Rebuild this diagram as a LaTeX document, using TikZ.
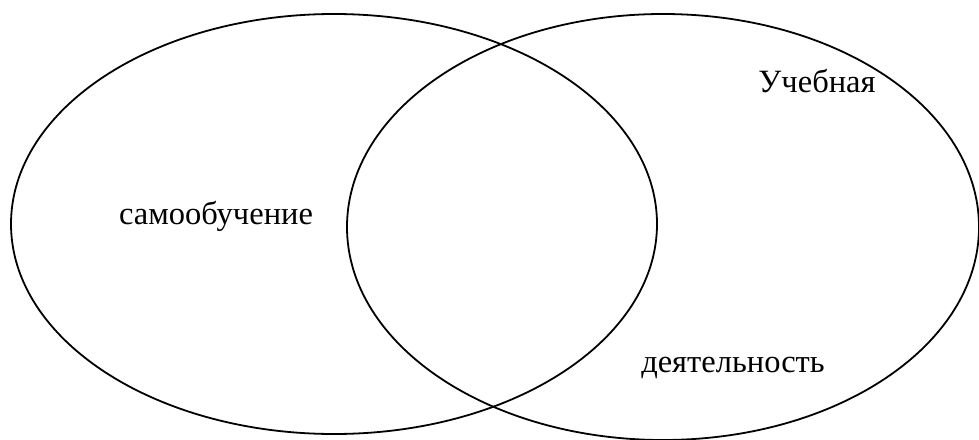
\documentclass[tikz,border=0pt]{standalone}
\usepackage{fontspec}
\setmainfont{Liberation Serif}
\usetikzlibrary{shapes.geometric}
\begin{document}
\begin{tikzpicture}[x=1pt,y=-1pt,
  set/.style={draw=black, line width=1.8pt, ellipse, inner sep=0pt},
  lbl/.style={font=\fontsize{32.5}{38}\selectfont, inner sep=0pt}]
\useasboundingbox (0,0) rectangle (979,439);
\node[set, minimum width=646pt, minimum height=420pt] (left) at (334,224) {};
\node[set, minimum width=632pt, minimum height=426pt] (right) at (663,227) {};
\node[lbl, anchor=base] (t1) at (216,224) {самообучение};
\node[lbl, anchor=base] (t2) at (817,92) {Учебная};
\node[lbl, anchor=base] (t3) at (733,372) {деятельность};
\end{tikzpicture}
\end{document}
